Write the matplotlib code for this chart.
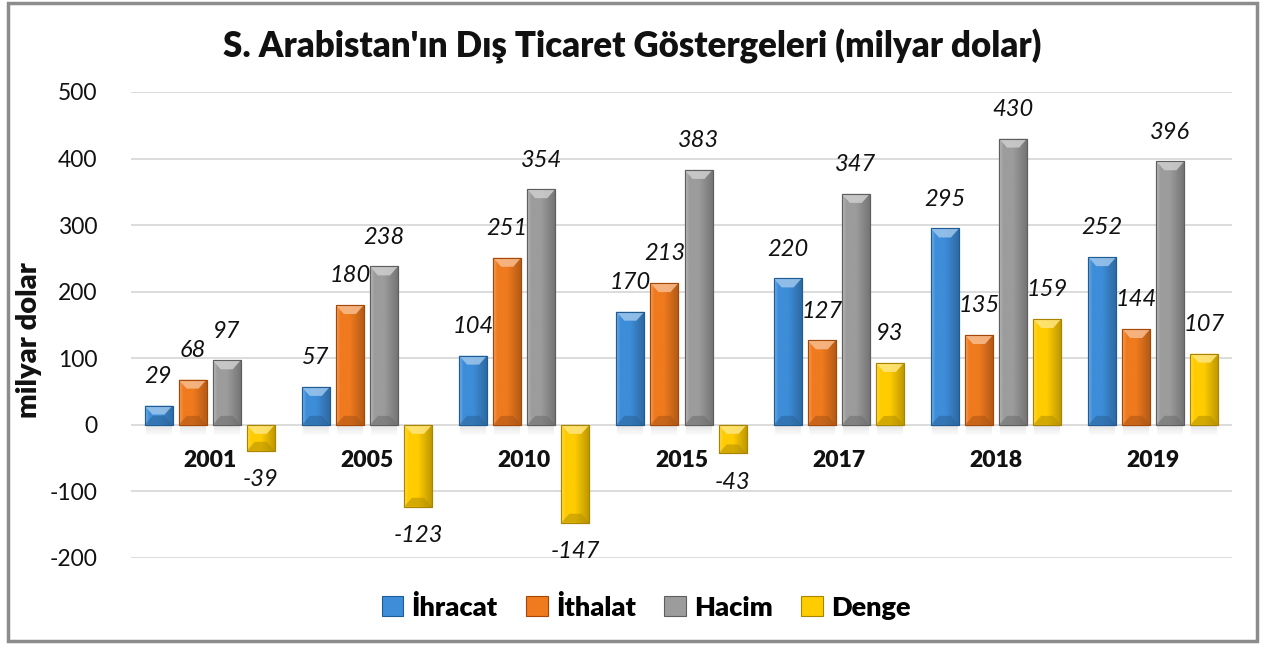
import numpy as np
import matplotlib
matplotlib.use("Agg")
import matplotlib.pyplot as plt
from matplotlib.patches import Rectangle, Polygon
from matplotlib.colors import to_rgb

plt.rcParams['font.family'] = ['Lato', 'DejaVu Sans']

years = ["2001", "2005", "2010", "2015", "2017", "2018", "2019"]
ihracat = [29, 57, 104, 170, 220, 295, 252]
ithalat = [68, 180, 251, 213, 127, 135, 144]
hacim = [97, 238, 354, 383, 347, 430, 396]
denge = [-39, -123, -147, -43, 93, 159, 107]
series_names = ["İhracat", "İthalat", "Hacim", "Denge"]
series = [ihracat, ithalat, hacim, denge]
colors = ["#3D8DD9", "#F07A1E", "#9C9C9C", "#FFCC00"]
edge_colors = ["#1F5C94", "#A4480A", "#5E5E5E", "#A88500"]
yticks = [-200, -100, 0, 100, 200, 300, 400, 500]

HEAVY = 800

W, H = 1263, 647
fig = plt.figure(figsize=(W / 100, H / 100), dpi=100)
ax_l, ax_r, ax_t, ax_b = 131, 1232, 92, 558
ax = fig.add_axes([ax_l / W, 1 - ax_b / H, (ax_r - ax_l) / W, (ax_b - ax_t) / H])
ax.set_xlim(-0.5, len(years) - 0.5)
ax.set_ylim(-200, 500)

px_x = (len(years)) / (ax_r - ax_l)    # data units per pixel (x)
px_y = 700 / (ax_b - ax_t)              # data units per pixel (y)

# grid
ax.set_yticks(yticks)
ax.set_yticklabels([str(v) for v in yticks], fontsize=16.5, color="#111111")
ax.tick_params(axis='y', length=0, pad=24)
ax.set_xticks([])
for y in yticks:
    ax.axhline(y, color="#D9D9D9", lw=1.3, zorder=0)
for s in ax.spines.values():
    s.set_visible(False)

x = np.arange(len(years))
step = 0.2166
width = 0.178
offsets = [-1.5 * step, -0.5 * step, 0.5 * step, 1.5 * step]


def mix(c, t, amt):
    c = np.array(to_rgb(c))
    t = np.array(to_rgb(t))
    return tuple(c * (1 - amt) + t * amt)


for si, (vals, col, ec) in enumerate(zip(series, colors, edge_colors)):
    bars = ax.bar(x + offsets[si], vals, width=width, color=col, edgecolor=ec,
                  linewidth=0.8, zorder=3)
    for b, v in zip(bars, vals):
        x0 = b.get_x()
        w = b.get_width()
        y0 = min(b.get_y(), b.get_y() + b.get_height())
        y1 = max(b.get_y(), b.get_y() + b.get_height())
        # horizontal gradient
        n = 64
        t = np.linspace(0, 1, n)
        grad = np.zeros((1, n, 3))
        for k, tv in enumerate(t):
            if tv < 0.15:
                grad[0, k] = mix(col, "white", 0.28 * (1 - tv / 0.15))
            elif tv < 0.5:
                grad[0, k] = to_rgb(col)
            else:
                grad[0, k] = mix(col, "black", 0.25 * (tv - 0.5) / 0.5)
        im = ax.imshow(grad, extent=[x0, x0 + w, y0, y1], aspect='auto',
                       zorder=3.1, interpolation='bilinear')
        im.set_clip_path(b)
        # bevel
        bx = 8 * px_x
        by = 9 * px_y
        hgt = y1 - y0
        by_ = min(by, hgt / 2)
        top = Polygon([(x0, y1), (x0 + w, y1), (x0 + w - bx, y1 - by_), (x0 + bx, y1 - by_)],
                      closed=True, facecolor=mix(col, "white", 0.5), edgecolor='none',
                      alpha=0.85, zorder=3.2)
        bot = Polygon([(x0, y0), (x0 + w, y0), (x0 + w - bx, y0 + by_), (x0 + bx, y0 + by_)],
                      closed=True, facecolor=mix(col, "black", 0.3), edgecolor='none',
                      alpha=0.55, zorder=3.2)
        ax.add_patch(top)
        ax.add_patch(bot)
        ax.add_patch(Rectangle((x0, y0), w, hgt, fill=False, edgecolor=ec, lw=0.8, zorder=3.3))
        # shadow under positive bars
        if v > 0:
            for k in range(5):
                ax.add_patch(Rectangle((x0 + 1 * px_x, -(2 + 2 * k) * px_y), w - 2 * px_x, 2 * px_y,
                                       facecolor="black", edgecolor='none',
                                       alpha=0.10 * (1 - k / 5), zorder=2))
        # data labels
        ax.annotate(str(v), (x0 + w / 2, v), xytext=(0, 21 if v >= 0 else -21),
                    textcoords='offset points', ha='center', va='center',
                    fontsize=17, style='italic', color="#111111", zorder=5)

# category labels at zero line
for xi, yr in zip(x, years):
    ax.annotate(yr, (xi, 0), xytext=(0, -26), textcoords='offset points',
                ha='center', va='center', fontsize=16.5, fontweight=HEAVY, color="#111111", zorder=5)

ax.set_ylabel("milyar dolar", fontsize=21, fontweight=HEAVY, color="#111111")
ax.yaxis.set_label_coords(-(131 - 42) / (ax_r - ax_l), 1 - (340 - ax_t) / (ax_b - ax_t))

fig.text(632 / W, 1 - 46 / H, "S. Arabistan'ın Dış Ticaret Göstergeleri (milyar dolar)",
         ha='center', va='center', fontsize=25, fontweight=HEAVY, color="#111111")

# legend
handles = [Rectangle((0, 0), 1, 1, facecolor=c, edgecolor=e, lw=0.8) for c, e in zip(colors, edge_colors)]
leg = fig.legend(handles, series_names, loc='center', bbox_to_anchor=(646 / W, 1 - 607 / H),
                 ncol=4, frameon=False, prop={'size': 19.5, 'weight': HEAVY},
                 handlelength=0.8, handleheight=0.8, handletextpad=0.3, columnspacing=1.05)

# border
fig.add_artist(Rectangle((8 / W, 1 - 641 / H), (1257 - 8) / W, (641 - 3) / H,
                         transform=fig.transFigure, fill=False, edgecolor="#8C8C8C", lw=2.5))

fig.savefig("out.png", dpi=100, facecolor="white")
